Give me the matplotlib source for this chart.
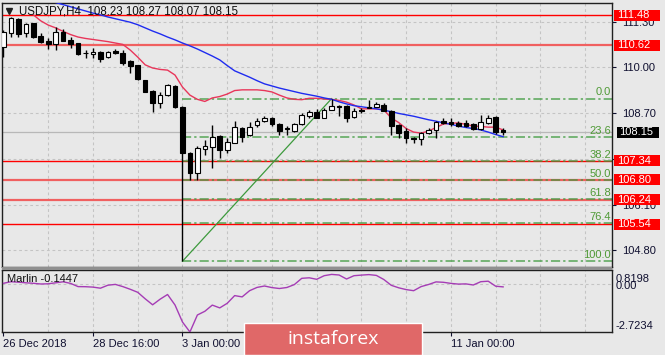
import matplotlib
matplotlib.use('Agg')
import matplotlib.pyplot as plt
import numpy as np
from matplotlib.patches import Rectangle
from matplotlib.transforms import blended_transform_factory

nan = np.nan
# ---------------- data ----------------
opens  = [110.58,110.97,111.36,110.97,111.25,110.89,110.75,110.65,111.01,110.78,
          110.68,110.41,110.38,110.44,110.28,110.47,110.41,110.19,110.06,109.64,
          109.33,108.98,109.21,109.48,108.88,107.56,106.99,107.67,107.74,108.05,
          107.65,107.86,108.27,108.08,108.36,108.48,108.57,108.40,108.27,108.20,
          108.38,108.62,108.74,108.57,108.79,108.91,108.91,108.60,108.80,108.85,
          108.88,108.93,108.77,108.36,108.19,108.00,107.95,108.12,108.22,108.47,
          108.45,108.43,108.41,108.38,108.24,108.41,108.60,108.23]
highs  = [111.06,111.44,111.39,111.25,111.27,110.97,110.82,111.14,111.08,110.87,
          110.70,110.49,110.56,110.46,110.46,110.51,110.49,110.21,110.07,109.64,
          109.36,109.31,109.52,109.50,108.90,107.58,107.76,107.93,108.36,108.08,
          107.99,108.48,108.30,108.45,108.55,108.62,108.59,108.42,108.34,108.42,
          108.69,108.79,108.82,108.85,109.11,108.93,108.93,108.85,108.85,109.07,
          109.02,108.98,108.79,108.38,108.28,108.03,108.15,108.27,108.47,108.55,
          108.55,108.47,108.50,108.43,108.65,108.65,108.62,108.27]
lows   = [110.29,110.87,110.87,110.87,110.82,110.68,110.51,110.49,110.74,110.54,
          110.35,110.26,110.26,110.16,110.26,110.38,110.07,109.83,109.65,109.30,
          108.74,108.84,109.18,108.84,104.49,106.80,106.80,107.51,107.13,107.42,
          107.56,107.84,107.89,108.04,108.30,108.44,108.34,108.08,108.08,108.15,
          108.36,108.55,108.55,108.55,108.78,108.62,108.45,108.56,108.71,108.83,
          108.86,108.75,108.08,107.98,107.84,107.84,107.79,108.10,107.98,108.38,
          108.33,108.30,108.30,108.21,108.22,108.39,108.10,108.07]
closes = [111.00,111.39,110.95,111.23,110.85,110.73,110.65,110.99,110.76,110.65,
          110.38,110.40,110.44,110.24,110.44,110.40,110.11,110.04,109.67,109.31,
          108.98,109.21,109.50,108.88,107.56,106.99,107.70,107.77,108.03,107.65,
          107.87,108.30,108.03,108.31,108.47,108.56,108.38,108.20,108.26,108.39,
          108.64,108.74,108.55,108.79,108.91,108.88,108.55,108.76,108.76,108.88,
          108.97,108.77,108.33,108.14,108.00,107.95,108.13,108.22,108.44,108.41,
          108.39,108.33,108.33,108.24,108.44,108.55,108.17,108.15]

red_ma = [nan,nan,nan,nan,111.49,111.32,111.20,111.12,111.02,110.93,
          110.86,110.82,110.79,110.76,110.73,110.69,110.65,110.49,110.29,110.07,
          109.98,109.94,109.92,109.78,109.44,109.21,109.09,109.03,109.13,109.17,
          109.24,109.34,109.36,109.36,109.36,109.34,109.30,109.21,109.13,109.09,
          109.08,109.12,109.12,109.10,109.09,109.06,109.01,108.93,108.82,108.82,
          108.82,108.79,108.56,108.43,108.26,108.16,108.13,108.19,108.29,108.39,
          108.41,108.42,108.38,108.33,108.32,108.30,108.30,108.22]
blue_ma = [nan,nan,nan,nan,nan,nan,nan,111.84,111.78,111.72,
           111.66,111.60,111.54,111.49,111.43,111.38,111.33,111.28,111.21,111.12,
           111.03,110.95,110.86,110.78,110.69,110.61,110.52,110.42,110.32,110.21,
           110.05,109.90,109.81,109.72,109.62,109.53,109.47,109.41,109.36,109.31,
           109.26,109.22,109.18,109.13,109.09,109.02,108.96,108.91,108.88,108.85,
           108.82,108.78,108.74,108.69,108.65,108.61,108.56,108.51,108.47,108.42,
           108.38,108.33,108.29,108.26,108.22,108.16,108.09,108.03]
marlin = [0.060,0.151,0.123,0.088,0.060,0.020,0.031,0.088,0.146,0.054,
          -0.129,-0.135,-0.158,-0.220,-0.049,-0.003,-0.129,-0.283,-0.455,-0.826,
          -1.169,-0.849,-0.580,-1.180,-2.152,-2.7234,-1.752,-1.540,-1.186,-1.346,
          -1.083,-0.643,-0.717,-0.363,-0.175,-0.095,-0.186,-0.238,-0.180,-0.015,
          0.345,0.374,0.288,0.494,0.568,0.534,0.305,0.494,0.528,0.557,
          0.511,0.277,-0.055,-0.198,-0.300,-0.363,-0.129,-0.009,0.140,0.117,
          0.054,0.014,0.026,-0.037,0.151,0.180,-0.106,-0.1447]

price_ticks = [111.30, 110.00, 108.70, 107.40, 106.10, 104.80]
price_tick_labels = ['111.30', '110.00', '108.70', '', '106.10', '104.80']
red_levels = [111.48, 110.62, 107.34, 106.80, 106.24, 105.54]
red_level_style = ['strong', 'soft', 'strong', 'soft', 'soft', 'strong']
bid_price = 108.15
fib_high, fib_low = 109.11, 104.49
fib_start_bar, fib_end_bar = 24, 44
fib_ratios = [0.0, 23.6, 38.2, 50.0, 61.8, 76.4, 100.0]
time_labels = ['26 Dec 2018', '28 Dec 16:00', '3 Jan 00:00', '', '', '11 Jan 00:00']
time_label_bars = [0, 12, 24, 36, 48, 60]
header = "USDJPY,H4  108.23 108.27 108.07 108.15"
marlin_label = "Marlin -0.1447"
marlin_ticks = [0.8198, 0.00, -2.7234]

# ---------------- figure ----------------
W, H = 665, 355
BG = '#e8e8e8'
fig = plt.figure(figsize=(W/100, H/100), dpi=100, facecolor=BG)
FONT = 'Liberation Sans'
plt.rcParams['font.family'] = [FONT, 'DejaVu Sans']

def fx(px): return px / W
def fy(py): return 1 - py / H

ax = fig.add_axes([fx(2), fy(267), fx(610), (267-3)/H])
ax2 = fig.add_axes([fx(2), fy(332), fx(610), (332-270)/H])
for a in (ax, ax2):
    a.set_facecolor(BG)
    for s in a.spines.values():
        s.set_color('#202020'); s.set_linewidth(1.0)
    a.set_xlim(-0.2, 81.6)

ax.set_ylim(104.327, 111.827)
ax2.set_ylim(-2.7234, 0.8198)

n = len(opens)
x = np.arange(n)
grid_kw = dict(color='#c4c4c4', lw=0.8, ls=(0, (2.5, 2.5)), zorder=0.5)
for gb in range(6, 80, 6):
    ax.axvline(gb, **grid_kw)
    ax2.axvline(gb, **grid_kw)
for p in price_ticks:
    ax.axhline(p, **grid_kw)
ax2.axhline(0, **grid_kw)

# red horizontal levels
for lv, st in zip(red_levels, red_level_style):
    if st == 'strong':
        ax.axhline(lv, color='#ff0000', lw=1.0, zorder=2)
    else:
        ax.axhline(lv, color='#f06060', lw=1.6, zorder=2)

# bid line
ax.axhline(bid_price, color='#b8b8b8', lw=0.9, zorder=1)

# fibonacci
fib_color = '#3d9a3d'
rng = fib_high - fib_low
for r in fib_ratios:
    lv = fib_high - r / 100 * rng
    ax.hlines(lv, fib_start_bar, 81.6, color=fib_color, lw=1.1,
              linestyles=[(0, (6, 2, 1.5, 2))], zorder=2.2, alpha=0.85)
    ax.text(0.9985, lv + 0.035, f"{r:.1f}", transform=blended_transform_factory(ax.transAxes, ax.transData),
            ha='right', va='bottom', fontsize=8, color='#4f9a36', zorder=6)
ax.plot([fib_start_bar, fib_end_bar], [fib_low, fib_high], color='#3d9a3d', lw=0.9, zorder=2.3)

# moving averages
ax.plot(x, red_ma, color='#e8365a', lw=1.0, zorder=3)
ax.plot(x, blue_ma, color='#1f2cf0', lw=1.0, zorder=3)

# candles
o = np.array(opens); c = np.array(closes); hi = np.array(highs); lo = np.array(lows)
ax.vlines(x, lo, hi, color='black', lw=1.0, zorder=4)
bull = c >= o
bw = 0.62
bot = np.minimum(o, c); ht = np.maximum(np.abs(c - o), 0.012)
ax.bar(x[bull], ht[bull], bottom=bot[bull], width=bw, color='white', edgecolor='black', lw=0.8, zorder=5)
ax.bar(x[~bull], ht[~bull], bottom=bot[~bull], width=bw, color='black', edgecolor='black', lw=0.8, zorder=5)

# right axis of main
ax.yaxis.tick_right()
ax.set_yticks(price_ticks)
ax.set_yticklabels(price_tick_labels)
ax.tick_params(axis='y', direction='out', length=3, width=0.8, pad=4, labelsize=8, colors='#101030')
ax.set_xticks([])

tr = blended_transform_factory(ax.transAxes, ax.transData)
bh = 11 / 35.2
for lv in red_levels:
    ax.add_patch(Rectangle((1.0033, lv - bh/2), 0.0754, bh, transform=tr, facecolor='#ff0000',
                           edgecolor='none', clip_on=False, zorder=8))
    ax.text(1.0082, lv, f"{lv:.2f}", transform=tr, ha='left', va='center', fontsize=8,
            color='white', zorder=9, clip_on=False)
ax.add_patch(Rectangle((1.0082, bid_price - bh/2), 0.0689, bh, transform=tr, facecolor='#000000',
                       edgecolor='none', clip_on=False, zorder=8))
ax.text(1.0115, bid_price, f"{bid_price:.2f}", transform=tr, ha='left', va='center', fontsize=8,
        color='white', zorder=9, clip_on=False)

# header
ax.text(0.0281, 0.966, header, transform=ax.transAxes, ha='left', va='center', fontsize=8.3,
        color='#101010', zorder=7)
ax.plot([0.011], [0.968], marker='v', color='#202020', markersize=5, transform=ax.transAxes,
        clip_on=False, zorder=7)

# indicator panel
ax2.plot(x, marlin, color='#a53cb5', lw=1.0, zorder=3)
ax2.set_yticks([])
ax2.set_xticks(time_label_bars)
ax2.set_xticklabels(time_labels)
for lab in ax2.get_xticklabels():
    lab.set_horizontalalignment('left')
ax2.tick_params(axis='x', direction='out', length=3, width=0.8, pad=2, labelsize=8, colors='#101030')
ax2.text(0.0085, 0.86, marlin_label, transform=ax2.transAxes, ha='left', va='center', fontsize=8,
         color='#101010')
tr2 = blended_transform_factory(ax2.transAxes, ax2.transData)
ax2.text(1.0065, 0.93, f"{marlin_ticks[0]:.4f}", transform=ax2.transAxes, ha='left', va='top', fontsize=8,
         color='#101030', clip_on=False)
ax2.text(1.0065, marlin_ticks[1] - 0.12, f"{marlin_ticks[1]:.2f}", transform=tr2, ha='left', va='center',
         fontsize=8, color='#101030', clip_on=False)
ax2.text(1.0065, 0.02, f"{marlin_ticks[2]:.4f}", transform=ax2.transAxes, ha='left', va='bottom',
         fontsize=8, color='#101030', clip_on=False)

# separator between panes
fig.patches.append(Rectangle((fx(2), fy(270)), fx(610), 3/H, transform=fig.transFigure,
                             facecolor='#909090', edgecolor='none', zorder=5))

# watermark
fig.patches.append(Rectangle((fx(244), 0), fx(178), (355-323)/H, transform=fig.transFigure,
                             facecolor='#e06868', edgecolor='white', lw=1.0, zorder=10))
fig.text(fx(333), fy(339), 'instaforex', ha='center', va='center', fontsize=14, color='white',
         family='Open Sans', zorder=11)

fig.savefig('out.png', dpi=100, facecolor=BG)
